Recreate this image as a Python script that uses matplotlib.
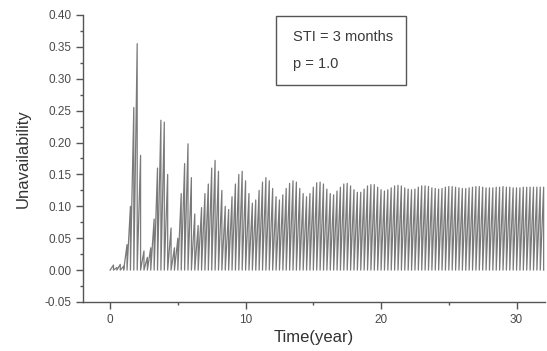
import numpy as np
import matplotlib
matplotlib.use("Agg")
import matplotlib.pyplot as plt

# Test interval (years) and tooth peak values, 4 tests per year
test_interval = 0.25
peaks = [
    0.008, 0.004, 0.009, 0.006,      # year 0
    0.040, 0.100, 0.255, 0.355,      # year 1
    0.180, 0.030, 0.020, 0.035,      # year 2
    0.080, 0.160, 0.235, 0.232,      # year 3
    0.150, 0.066, 0.035, 0.050,      # year 4
    0.120, 0.167, 0.198, 0.145,      # year 5
    0.088, 0.070, 0.098, 0.120,      # year 6
    0.135, 0.160, 0.172, 0.155,      # year 7
    0.125, 0.100, 0.095, 0.115,      # year 8
    0.135, 0.150, 0.155, 0.140,      # year 9
    0.120, 0.105, 0.110, 0.125,      # year 10
    0.138, 0.145, 0.140, 0.128,      # year 11
    0.115, 0.110, 0.118, 0.128,      # year 12
    0.136, 0.140, 0.138, 0.128,      # year 13
    0.120, 0.115, 0.120, 0.130,      # year 14
    0.137, 0.138, 0.135, 0.127,      # year 15
    0.120, 0.118, 0.124, 0.130,      # year 16
    0.135, 0.136, 0.132, 0.126,      # year 17
    0.122, 0.122, 0.127, 0.132,      # year 18
    0.134, 0.134, 0.130, 0.126,      # year 19
    0.124, 0.126, 0.129, 0.132,      # year 20
    0.133, 0.132, 0.129, 0.127,      # year 21
    0.126, 0.127, 0.130, 0.132,      # year 22
    0.132, 0.131, 0.129, 0.128,      # year 23
    0.127, 0.128, 0.130, 0.131,      # year 24
    0.131, 0.130, 0.129, 0.128,      # year 25
    0.128, 0.129, 0.130, 0.131,      # year 26
    0.131, 0.130, 0.129, 0.129,      # year 27
    0.129, 0.130, 0.130, 0.131,      # year 28
    0.130, 0.130, 0.129, 0.129,      # year 29
    0.129, 0.130, 0.130, 0.130,      # year 30
    0.130, 0.130, 0.130, 0.130,      # year 31
]
annotation_lines = ["STI = 3 months", "p = 1.0"]
x_ticks = [0, 10, 20, 30]
y_ticks = [-0.05, 0.00, 0.05, 0.10, 0.15, 0.20, 0.25, 0.30, 0.35, 0.40]

# Sawtooth vertices: reset to 0 after each test, rise to the peak at the next test
xs, ys = [0.0], [0.0]
for k, pk in enumerate(peaks):
    t = (k + 1) * test_interval
    xs += [t, t]
    ys += [pk, 0.0]

plt.rcParams['font.family'] = ['Liberation Sans', 'DejaVu Sans']
fig = plt.figure(figsize=(5.47, 3.51), dpi=100)
ax = fig.add_axes([83/547, 1-302/351, 462/547, (302-15)/351])

txt_col = '#4a4a4a'
ax.plot(xs, ys, color='#7a7a7a', lw=0.9)

ax.set_xlim(-2.0, 32.1)
ax.set_ylim(-0.05, 0.40)
ax.set_xticks(x_ticks)
ax.set_xticks([5, 15, 25], minor=True)
ax.set_yticks(y_ticks)
ax.set_yticks(np.arange(-0.025, 0.40, 0.05), minor=True)
ax.set_yticklabels([f"{v:.2f}" for v in y_ticks])

for s in ['top', 'right']:
    ax.spines[s].set_visible(False)
for s in ['left', 'bottom']:
    ax.spines[s].set_color('#555555')
    ax.spines[s].set_linewidth(1.0)

ax.tick_params(axis='both', which='major', direction='out', length=5, width=1.0,
               colors='#555555', labelcolor=txt_col, labelsize=8.5)
ax.tick_params(axis='both', which='minor', direction='out', length=2.5, width=1.0,
               colors='#555555')

ax.set_xlabel("Time(year)", fontsize=12, color='#333333', labelpad=3)
ax.set_ylabel("Unavailability", fontsize=12, color='#333333', labelpad=10)

# Annotation box
box = plt.Rectangle((276/547, 1-85/351), (406-276)/547, (85-16)/351,
                    transform=fig.transFigure, fill=False, ec='#555555', lw=1.0)
fig.add_artist(box)
fig.text(293/547, 1-37/351, annotation_lines[0], fontsize=10.5, color='#3a3a3a',
         va='center', ha='left')
fig.text(293/547, 1-64/351, annotation_lines[1], fontsize=10.5, color='#3a3a3a',
         va='center', ha='left')

fig.savefig("out.png", dpi=100, facecolor='white')
